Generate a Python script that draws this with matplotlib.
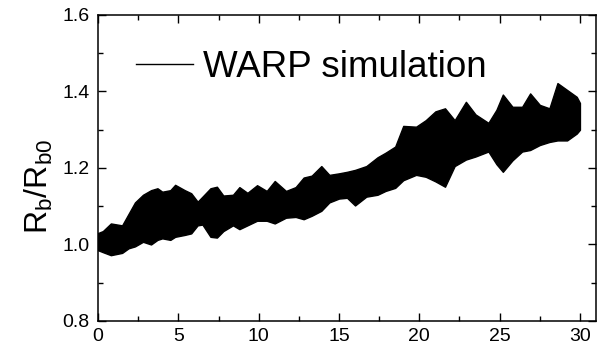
import matplotlib
matplotlib.use("Agg")
import matplotlib.pyplot as plt
from matplotlib.lines import Line2D
from matplotlib.ticker import MultipleLocator

# Envelope of the (very fast) WARP oscillation.
time = [0.0, 0.3, 0.8, 1.5, 1.9, 2.3, 2.8, 3.3, 3.7, 4.0, 4.5, 4.8, 5.4, 5.8,
        6.2, 6.5, 7.0, 7.4, 7.8, 8.4, 8.8, 9.3, 9.9, 10.5, 11.0, 11.7, 12.3,
        12.8, 13.3, 13.9, 14.4, 15.0, 15.5, 16.0, 16.7, 17.4, 17.9, 18.5,
        19.0, 19.8, 20.4, 21.0, 21.6, 22.2, 22.9, 23.5, 24.3, 24.8, 25.2,
        25.8, 26.4, 26.9, 27.5, 28.1, 28.6, 29.2, 29.8, 30.0]
rb_upper = [1.030, 1.035, 1.055, 1.050, 1.080, 1.110, 1.130, 1.142, 1.147,
            1.138, 1.142, 1.156, 1.142, 1.134, 1.112, 1.125, 1.147, 1.151,
            1.128, 1.130, 1.150, 1.135, 1.155, 1.140, 1.166, 1.140, 1.150,
            1.175, 1.180, 1.205, 1.182, 1.186, 1.190, 1.195, 1.205, 1.228,
            1.240, 1.256, 1.310, 1.308, 1.325, 1.348, 1.356, 1.325, 1.373,
            1.340, 1.318, 1.352, 1.392, 1.360, 1.360, 1.395, 1.365, 1.356,
            1.422, 1.404, 1.386, 1.370]
rb_lower = [0.985, 0.980, 0.972, 0.978, 0.990, 0.995, 1.007, 1.000, 1.012,
            1.016, 1.012, 1.020, 1.025, 1.029, 1.050, 1.052, 1.020, 1.018,
            1.035, 1.050, 1.040, 1.050, 1.062, 1.062, 1.055, 1.070, 1.072,
            1.066, 1.075, 1.088, 1.110, 1.120, 1.122, 1.102, 1.125, 1.130,
            1.140, 1.148, 1.168, 1.182, 1.177, 1.165, 1.151, 1.205, 1.222,
            1.230, 1.243, 1.210, 1.190, 1.220, 1.243, 1.247, 1.260, 1.268,
            1.272, 1.272, 1.290, 1.300]

xticks = [0, 5, 10, 15, 20, 25, 30]
yticks = [0.8, 1.0, 1.2, 1.4, 1.6]

plt.rcParams.update({
    "font.family": ["Liberation Sans", "DejaVu Sans"],
    "mathtext.default": "regular",
})

fig = plt.figure(figsize=(6.01, 3.46), dpi=100)
ax = fig.add_axes([0.1631, 0.0723, 0.8286, 0.8844])

# The trace oscillates too fast to resolve: draw it as a solid band.
ax.fill_between(time, rb_lower, rb_upper, color="black", lw=1.0,
                edgecolor="black")

ax.set_xlim(0, 31)
ax.set_ylim(0.8, 1.6)
ax.set_xticks(xticks)
ax.set_yticks(yticks)
ax.set_yticklabels([f"{v:.1f}" for v in yticks])
ax.xaxis.set_minor_locator(MultipleLocator(2.5))
ax.yaxis.set_minor_locator(MultipleLocator(0.1))
ax.tick_params(which="both", direction="in", top=True, right=True,
               width=1.0, labelsize=14)
ax.tick_params(which="major", length=6)
ax.tick_params(which="minor", length=3.5)
ax.tick_params(axis="y", pad=6)
ax.tick_params(axis="x", pad=5)
for sp in ax.spines.values():
    sp.set_linewidth(1.1)

ax.set_ylabel("$R_b/R_{b0}$", fontsize=23, va="center")
ax.yaxis.set_label_coords(-0.118, 0.44)

handle = Line2D([], [], color="black", lw=1.0)
ax.legend([handle], ["WARP simulation"], loc="center left",
          bbox_to_anchor=(0.0763, 0.83), frameon=False, fontsize=26.5,
          handlelength=1.55, handletextpad=0.27, borderpad=0,
          borderaxespad=0)

fig.savefig("out.png", dpi=100)
